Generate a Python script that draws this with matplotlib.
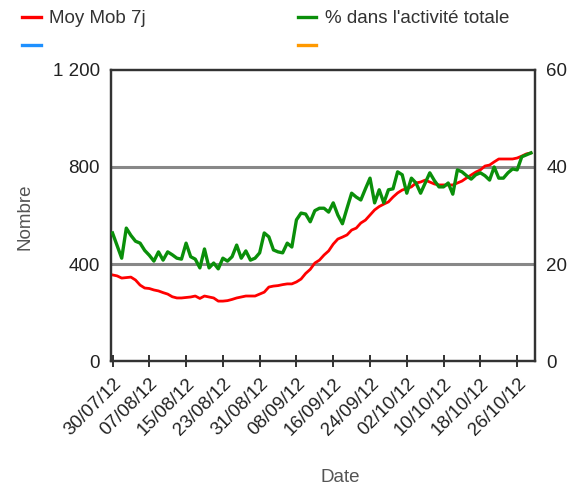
import numpy as np
import pandas as pd
import matplotlib
matplotlib.use("Agg")
import matplotlib.pyplot as plt
import matplotlib.dates as mdates
from matplotlib.lines import Line2D

plt.rcParams['font.family'] = ['Liberation Sans', 'DejaVu Sans']

# daily values, 30/07/12 -> 29/10/12
start = "2012-07-30"
moy_mob_7j = [355, 351, 342, 344, 346, 334, 313, 301, 299, 293,
              289, 282, 276, 265, 260, 260, 262, 264, 268, 258,
              268, 264, 260, 247, 247, 249, 254, 260, 264, 268,
              268, 268, 276, 284, 305, 309, 311, 315, 318, 318,
              326, 338, 361, 378, 404, 416, 437, 454, 482, 503,
              511, 520, 540, 548, 569, 581, 602, 623, 637, 647,
              656, 676, 693, 705, 711, 718, 734, 738, 746, 738,
              730, 726, 726, 726, 726, 734, 742, 755, 767, 779,
              788, 804, 808, 821, 833, 833, 833, 833, 837, 845,
              854, 858]
pct_activite = [26.4, 23.8, 21.2, 27.4, 25.9, 24.7, 24.3, 22.8, 21.8, 20.6,
                22.5, 20.8, 22.5, 21.9, 21.2, 21.0, 24.3, 21.5, 21.0, 19.2,
                23.1, 19.2, 20.2, 19.0, 21.2, 20.6, 21.5, 23.9, 21.2, 22.7,
                20.8, 21.2, 22.3, 26.4, 25.6, 22.9, 22.5, 22.3, 24.3, 23.5,
                29.1, 30.5, 30.3, 28.7, 31.0, 31.5, 31.5, 30.7, 32.6, 30.1,
                28.3, 31.5, 34.6, 33.8, 33.2, 35.5, 37.7, 32.6, 35.3, 32.6,
                35.3, 35.5, 39.0, 38.4, 34.6, 37.7, 36.7, 34.6, 36.7, 38.8,
                37.2, 35.9, 35.9, 36.7, 34.4, 39.4, 39.0, 38.2, 37.5, 38.4,
                38.8, 38.2, 37.3, 40.0, 37.7, 37.7, 38.8, 39.6, 39.4, 42.1,
                42.5, 42.9]
dates = pd.date_range(start, periods=len(moy_mob_7j), freq="D")

left_ticks = [0, 400, 800, 1200]
left_labels = ["0", "400", "800", "1 200"]
right_ticks = [0, 20, 40, 60]

red = "#ff0000"
green = "#0a8f0a"
blue = "#1e90ff"
orange = "#ff9900"

fig = plt.figure(figsize=(5.81, 4.88), dpi=100)
ax = fig.add_axes([0.191, 0.2602, 0.730, 0.5964])
ax2 = ax.twinx()

for y in [400, 800]:
    ax.axhline(y, color="#888888", lw=2.2, zorder=1)

ax.plot(dates, moy_mob_7j, color=red, lw=2.0, zorder=3)
ax2.plot(dates, pct_activite, color=green, lw=2.4, zorder=3)

ax.set_ylim(0, 1200)
ax2.set_ylim(0, 60)
ax.set_xlim(pd.Timestamp(start) - pd.Timedelta(hours=8),
            pd.Timestamp(start) + pd.Timedelta(days=91.9))

ax.set_yticks(left_ticks)
ax.set_yticklabels(left_labels)
ax2.set_yticks(right_ticks)
ax.tick_params(axis="y", length=0, pad=8, labelsize=13.5, colors="#222222")
ax2.tick_params(axis="y", length=0, pad=8, labelsize=13.5, colors="#222222")

ticks = pd.date_range(start, periods=12, freq="8D")
ax.set_xticks(ticks)
ax.set_xticklabels([t.strftime("%d/%m/%y") for t in ticks],
                   rotation=45, ha="right", va="top", rotation_mode="anchor")
ax.tick_params(axis="x", direction="inout", length=8, width=1.3,
               labelsize=13.5, pad=6, colors="#222222")

for a in (ax, ax2):
    for s in a.spines.values():
        s.set_color("#333333")
        s.set_linewidth(1.6)

fig.text(25 / 581, 1 - 217 / 488, "Nombre", rotation=90, ha="center",
         va="center", fontsize=13.5, color="#555555")
fig.text(340 / 581, 1 - 478 / 488, "Date", ha="center", va="center",
         fontsize=13.5, color="#555555")

handles = [Line2D([], [], color=red, lw=2.4),
           Line2D([], [], color=blue, lw=2.4),
           Line2D([], [], color=green, lw=2.4),
           Line2D([], [], color=orange, lw=2.4)]
labels = ["Moy Mob 7j", "", "% dans l'activité totale", ""]
leg = fig.legend(handles, labels, ncol=2, loc="upper left",
                 bbox_to_anchor=(22 / 581, 1 - 10 / 488), frameon=False,
                 fontsize=13.5, handlelength=1.0, handletextpad=0.45,
                 columnspacing=8.1, labelspacing=0.6, borderpad=0,
                 borderaxespad=0)
for t in leg.get_texts():
    t.set_color("#333333")

fig.savefig("out.png", dpi=100)
